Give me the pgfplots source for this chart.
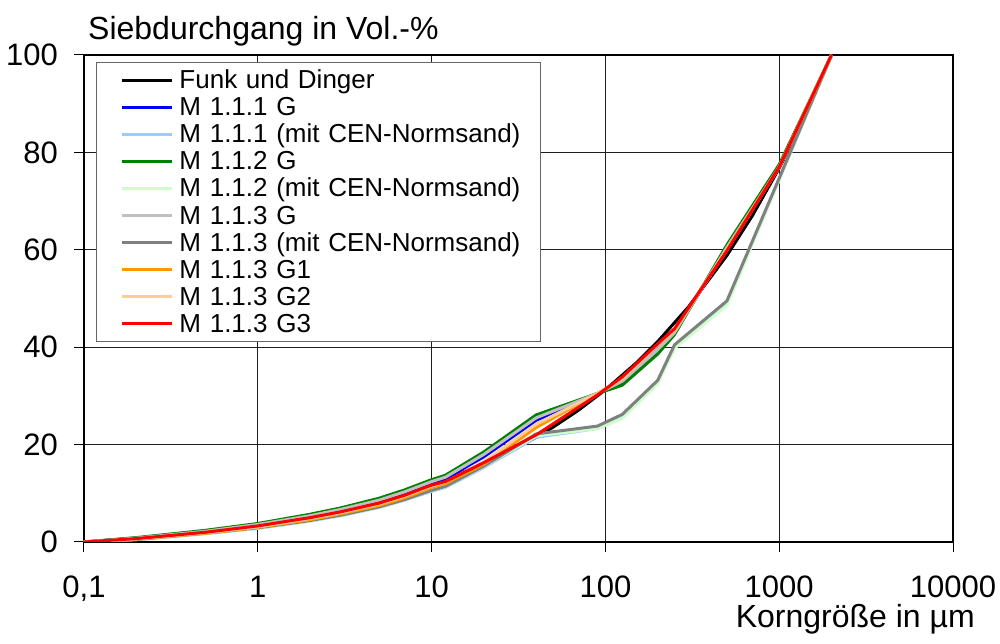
\documentclass[border=0pt]{standalone}
\usepackage{fontspec}
\setmainfont{Liberation Sans}
\usepackage{pgfplots}
\pgfplotsset{compat=1.18}
\definecolor{cblue}{RGB}{0,0,255}
\definecolor{clblue}{RGB}{153,204,255}
\definecolor{cgreen}{RGB}{0,128,0}
\definecolor{clgreen}{RGB}{204,255,204}
\definecolor{csilver}{RGB}{192,192,192}
\definecolor{cgray}{RGB}{128,128,128}
\definecolor{corange}{RGB}{255,153,0}
\definecolor{ctan}{RGB}{255,204,153}
\definecolor{cred}{RGB}{255,0,0}
\begin{document}
\begin{tikzpicture}
\begin{axis}[
  at={(0pt,0pt)}, anchor=south west,
  scale only axis, width=869pt, height=487pt,
  xmode=log, xmin=0.1, xmax=10000, ymin=0, ymax=100,
  xtick={0.1,1,10,100,1000,10000},
  xticklabels={{0,1},1,10,100,1000,10000},
  ytick={0,20,40,60,80,100},
  xminorticks=false,
  grid=major, major grid style={black!88, line width=1pt},
  axis line style={line width=1.2pt},
  tick style={black, line width=1pt},
  tick align=outside, major tick length=10pt,
  xtick pos=left, ytick pos=left,
  tick label style={font=\fontsize{31}{36}\selectfont},
  /pgf/number format/assume math mode=true,
  xticklabel style={anchor=base, inner sep=0pt, yshift=-46pt},
  yticklabel style={anchor=east, inner sep=0pt, xshift=-16pt},
  legend cell align=left,
  legend style={at={(0.0138,0.9856)}, anchor=north west,
    draw=black!60, line width=1pt, fill=white,
    inner xsep=3pt, inner ysep=4pt,
    font=\fontsize{26}{30}\selectfont,
    column sep=6pt, row sep=0pt,
    nodes={inner sep=0pt, text height=22pt, text depth=5.1pt, text width=358pt, align=left}},
  legend image code/.code={\path (0pt,0pt); \draw[#1] (21pt,0pt) -- (71pt,0pt);},
  every axis plot/.append style={line width=3pt, line join=round},
]
\addplot[black] coordinates {(0.1,0) (0.2,0.77) (0.5,2.14) (1,3.53) (2,5.34) (3,6.63) (5,8.55) (7,10.04) (10,11.82) (20,16.05) (30,19.07) (40,21.5) (50,23.58) (70,27.06) (100,31.26) (150,36.73) (200,41.15) (300,48.24) (500,58.82) (700,66.97) (1000,76.76) (1500,89.6) (2000,100)};
\addlegendentry{Funk und Dinger}
\addplot[cblue] coordinates {(0.1,0) (0.2,0.8) (0.5,2.2) (1,3.5) (2,5.3) (3,6.5) (5,8.5) (7,10.1) (10,12.2) (12,13.0) (20,17.5) (40,25.0) (90,30.5) (125,32.8) (200,39.5) (250,43.2) (500,60.0) (1000,77.0) (2000,100)};
\addlegendentry{M 1.1.1 G}
\addplot[clblue] coordinates {(0.1,0) (0.2,0.5) (0.5,1.7) (1,2.8) (2,4.3) (3,5.4) (5,7.1) (7,8.6) (10,10.4) (12,11.2) (20,15.3) (40,21.5) (90,23.3) (125,25.5) (200,32.8) (250,40.0) (500,49.0) (1000,74.5) (2000,100)};
\addlegendentry{M 1.1.1 (mit CEN-Normsand)}
\addplot[cgreen] coordinates {(0.1,0) (0.2,0.9) (0.5,2.4) (1,3.8) (2,5.7) (3,7.0) (5,9.0) (7,10.7) (10,12.8) (12,13.7) (20,18.5) (40,26.1) (90,30.5) (125,32.2) (200,38.6) (250,42.6) (500,61.0) (1000,77.5) (2000,100)};
\addlegendentry{M 1.1.2 G}
\addplot[clgreen] coordinates {(0.1,0) (0.2,0.5) (0.5,1.7) (1,2.8) (2,4.3) (3,5.4) (5,7.1) (7,8.6) (10,10.5) (12,11.3) (20,15.5) (40,21.8) (90,23.3) (125,25.4) (200,32.5) (250,39.8) (500,48.6) (1000,74.3) (2000,100)};
\addlegendentry{M 1.1.2 (mit CEN-Normsand)}
\addplot[csilver] coordinates {(0.1,0) (0.2,0.8) (0.5,2.2) (1,3.6) (2,5.4) (3,6.7) (5,8.6) (7,10.3) (10,12.4) (12,13.3) (20,18.0) (40,25.5) (90,30.5) (125,33.0) (200,39.5) (250,43.0) (500,60.5) (1000,77.0) (2000,100)};
\addlegendentry{M 1.1.3 G}
\addplot[cgray] coordinates {(0.1,0) (0.2,0.5) (0.5,1.8) (1,2.9) (2,4.4) (3,5.5) (5,7.2) (7,8.7) (10,10.6) (12,11.4) (20,15.6) (40,22.2) (90,23.8) (125,26.2) (200,33.2) (250,40.5) (500,49.5) (1000,74.7) (2000,100)};
\addlegendentry{M 1.1.3 (mit CEN-Normsand)}
\addplot[corange] coordinates {(0.1,0) (0.2,0.6) (0.5,1.8) (1,3.0) (2,4.6) (3,5.8) (5,7.5) (7,9.1) (10,11.2) (12,12.0) (20,16.0) (40,23.5) (90,30.5) (125,33.5) (200,40.5) (250,43.5) (500,60.0) (1000,77.0) (2000,100)};
\addlegendentry{M 1.1.3 G1}
\addplot[ctan] coordinates {(0.1,0) (0.2,0.6) (0.5,1.9) (1,3.1) (2,4.8) (3,6.0) (5,7.8) (7,9.4) (10,11.5) (12,12.3) (20,16.5) (40,24.2) (90,30.5) (125,33.5) (200,40.5) (250,43.5) (500,60.0) (1000,77.0) (2000,100)};
\addlegendentry{M 1.1.3 G2}
\addplot[cred] coordinates {(0.1,0) (0.2,0.7) (0.5,2.0) (1,3.3) (2,5.0) (3,6.2) (5,8.0) (7,9.6) (10,11.7) (12,12.4) (20,16.3) (40,22.0) (90,30.2) (125,33.9) (200,40.7) (250,43.8) (500,59.8) (1000,77.0) (2000,100)};
\addlegendentry{M 1.1.3 G3}
\end{axis}
\node[anchor=base west, inner sep=0pt, font=\fontsize{32}{36}\selectfont] at (4pt,502pt) {Siebdurchgang in Vol.-\%};
\node[anchor=base east, inner sep=0pt, font=\fontsize{32}{36}\selectfont] at (891pt,-86pt) {Korngröße in µm};
\pgfresetboundingbox
\path[use as bounding box] (-84pt,-102pt) rectangle (916pt,542pt);
\end{tikzpicture}
\end{document}
